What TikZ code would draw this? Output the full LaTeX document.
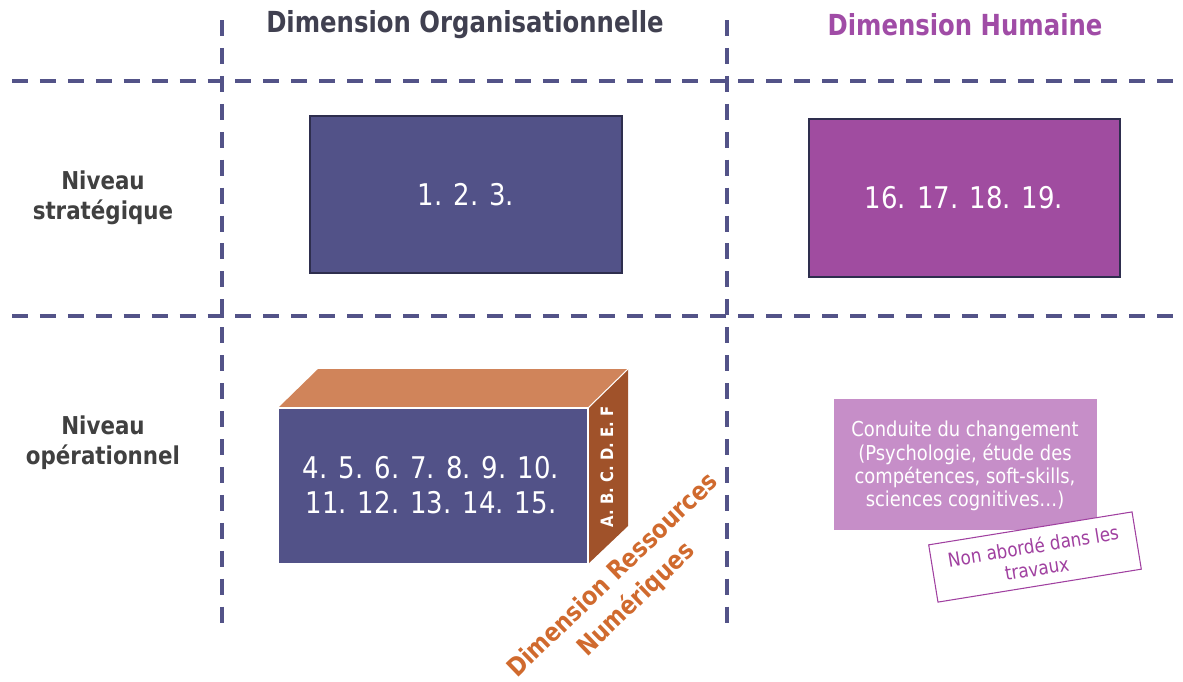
\documentclass[tikz,border=0pt]{standalone}
\usepackage{fontspec}
\setmainfont{DejaVu Sans}[FakeStretch=0.87]
\newfontfamily\titlefont{DejaVu Sans}[FakeStretch=0.84]
\usetikzlibrary{calc}
\definecolor{grid}{HTML}{535388}
\definecolor{navy}{HTML}{525288}
\definecolor{navyborder}{HTML}{2E2E4E}
\definecolor{purp}{HTML}{A04CA0}
\definecolor{lav}{HTML}{C68EC8}
\definecolor{orangetop}{HTML}{D0845A}
\definecolor{brownside}{HTML}{A0522A}
\definecolor{orangetext}{HTML}{D06A2E}
\definecolor{titlegray}{HTML}{404050}
\definecolor{titlepurp}{HTML}{A04CA6}
\definecolor{labelgray}{HTML}{404040}
\definecolor{notepurp}{HTML}{A040A0}
\tikzset{
  gridline/.style={draw=grid, line width=2pt, dash pattern=on 9.1pt off 6.8pt},
  coltitle/.style={font=\titlefont\bfseries\fontsize{16.5}{19}\selectfont, anchor=center},
  rowlabel/.style={font=\bfseries\fontsize{14}{17}\selectfont, text=labelgray, align=center},
  bigbox/.style={draw=navyborder, line width=0.6pt, inner sep=0pt},
  boxtext/.style={text=white, font=\fontsize{17}{20}\selectfont, align=center},
}
\begin{document}
\begin{tikzpicture}[x=0.02cm,y=-0.02cm]
\useasboundingbox (0,0) rectangle (1183,681);
% grid
\coordinate (h1a) at (12,81); \coordinate (h1b) at (1183,81);
\coordinate (h2a) at (12,316); \coordinate (h2b) at (1183,316);
\coordinate (v1a) at (222,20); \coordinate (v1b) at (222,633);
\coordinate (v2a) at (727,20); \coordinate (v2b) at (727,633);
\draw[gridline] (h1a) -- (h1b);
\draw[gridline] (h2a) -- (h2b);
\draw[gridline] (v1a) -- (v1b);
\draw[gridline] (v2a) -- (v2b);
% titles
\node[coltitle, text=titlegray] (t1) at (465,25) {Dimension Organisationnelle};
\node[coltitle, text=titlepurp] (t2) at (965,25) {Dimension Humaine};
% row labels
\node[rowlabel] (r1) at (103,198) {Niveau\\stratégique};
\node[rowlabel] (r2) at (103,443) {Niveau\\opérationnel};
% strategic boxes
\draw[bigbox, fill=navy] (310,116) rectangle (622,273);
\node[boxtext] (b1) at (466,195) {1. 2. 3.};
\draw[bigbox, fill=purp] (809,119) rectangle (1120,277);
\node[boxtext] (b2) at (964,198) {16. 17. 18. 19.};
% cube
\fill[orangetop] (278,408) -- (318,369) -- (628,369) -- (588,408) -- cycle;
\fill[brownside] (588,408) -- (628,369) -- (628,526) -- (588,564) -- cycle;
\draw[white, line width=0.6pt, fill=navy] (278,408) rectangle (588,564);
\draw[white, line width=0.6pt] (588,408) -- (628,369);
\node[text=white, font=\fontsize{17}{20}\selectfont, align=center] (cube) at (431,485) {4. 5. 6. 7. 8. 9. 10.\\11. 12. 13. 14. 15.};
\node[text=white, font=\bfseries\fontsize{9.7}{11}\selectfont, rotate=90] (side) at (607,467) {A. B. C. D. E. F};
\node[text=orangetext, font=\bfseries\fontsize{14.5}{19}\selectfont, align=center, rotate=44] (drn) at (625,588) {Dimension Ressources\\Numériques};
% human operational
\fill[lav] (834,399) rectangle (1097,530);
\node[text=white, font=\fontsize{11.7}{13.2}\selectfont, align=center] (cdc) at (965,466) {Conduite du changement\\(Psychologie, étude des\\compétences, soft-skills,\\sciences cognitives…)};
\node[draw=notepurp, fill=white, line width=0.6pt, text=notepurp, font=\fontsize{11}{13}\selectfont, align=center, rotate=9.2, minimum width=206*0.02cm, minimum height=58*0.02cm, inner sep=0pt] (note) at (1035,557) {Non abordé dans les\\travaux};
\end{tikzpicture}
\end{document}
